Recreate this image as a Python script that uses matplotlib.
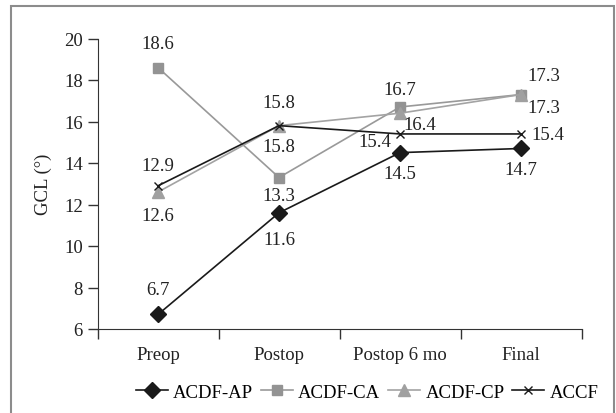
import numpy as np
import matplotlib
matplotlib.use("Agg")
import matplotlib.pyplot as plt
from matplotlib.patches import Rectangle

categories = ['Preop', 'Postop', 'Postop 6 mo', 'Final']
series_names = ['ACDF-AP', 'ACDF-CA', 'ACDF-CP', 'ACCF']
acdf_ap = [6.7, 11.6, 14.5, 14.7]
acdf_ca = [18.6, 13.3, 16.7, 17.3]
acdf_cp = [12.6, 15.8, 16.4, 17.3]
accf = [12.9, 15.8, 15.4, 15.4]
yticks = [6, 8, 10, 12, 14, 16, 18, 20]

# label offsets in pixels (dx, dy) per series / point
offsets = {
    'ACDF-AP': [(0, 25), (0, -27), (0, -21), (0, -21)],
    'ACDF-CA': [(0, 24), (0, -18), (0, 17), (23, 19)],
    'ACDF-CP': [(0, -23), (0, -21), (20, -11), (23, -13)],
    'ACCF': [(0, 20), (0, 23), (-25, -8), (27, -1)],
}
styles = {
    'ACDF-AP': dict(color='#1a1a1a', marker='D', ms=8, mfc='#1a1a1a', mec='#1a1a1a'),
    'ACDF-CA': dict(color='#999999', marker='s', ms=7.5, mfc='#939393', mec='#939393'),
    'ACDF-CP': dict(color='#a3a3a3', marker='^', ms=9, mfc='#a0a0a0', mec='#a0a0a0'),
    'ACCF': dict(color='#1a1a1a', marker='x', ms=6, mew=1.0),
}

plt.rcParams['font.family'] = ['Liberation Serif', 'DejaVu Serif']
plt.rcParams['font.size'] = 13.5

fig = plt.figure(figsize=(6.16, 4.14), dpi=100)
ax = fig.add_axes([97.5 / 616, 84 / 414, 484 / 616, 290.5 / 414])

x = np.arange(len(categories)) + 0.5
for name, vals in zip(series_names, [acdf_ap, acdf_ca, acdf_cp, accf]):
    ax.plot(x, vals, lw=1.2, label=name, **styles[name])
    for xi, v, (dx, dy) in zip(x, vals, offsets[name]):
        ax.annotate(f'{v:.1f}', (xi, v), xytext=(dx, dy), textcoords='offset pixels',
                    ha='center', va='center', color='#222222')

ax.set_xlim(0, len(categories))
ax.set_ylim(6, 20)
ax.set_yticks(yticks)
ax.set_xticks(np.arange(len(categories) + 1))
ax.set_xticklabels([])
ax.set_xticks(x, minor=True)
ax.set_xticklabels(categories, minor=True)
ax.tick_params(axis='x', which='major', length=7, width=1, color='#333333')
ax.tick_params(axis='x', which='minor', length=0, pad=12, colors='#222222')
ax.tick_params(axis='y', length=7, width=1, color='#333333', labelcolor='#222222')
ax.set_ylabel('GCL (°)', color='#222222', labelpad=9)

ax.spines['right'].set_visible(False)
ax.spines['top'].set_visible(False)
ax.spines['left'].set_color('#333333')
ax.spines['bottom'].set_color('#333333')

fig.legend(ncol=4, loc='center', bbox_to_anchor=(367 / 616, 21 / 414), frameon=False,
           handlelength=1.7, handletextpad=0.3, columnspacing=0.4, borderaxespad=0)

fig.patches.append(Rectangle((11 / 616, -0.05), 603 / 616, 1.05 - 7 / 414,
                             transform=fig.transFigure, fill=False,
                             edgecolor='#8c8c8c', lw=1.5))

plt.savefig('out.png', dpi=100)
